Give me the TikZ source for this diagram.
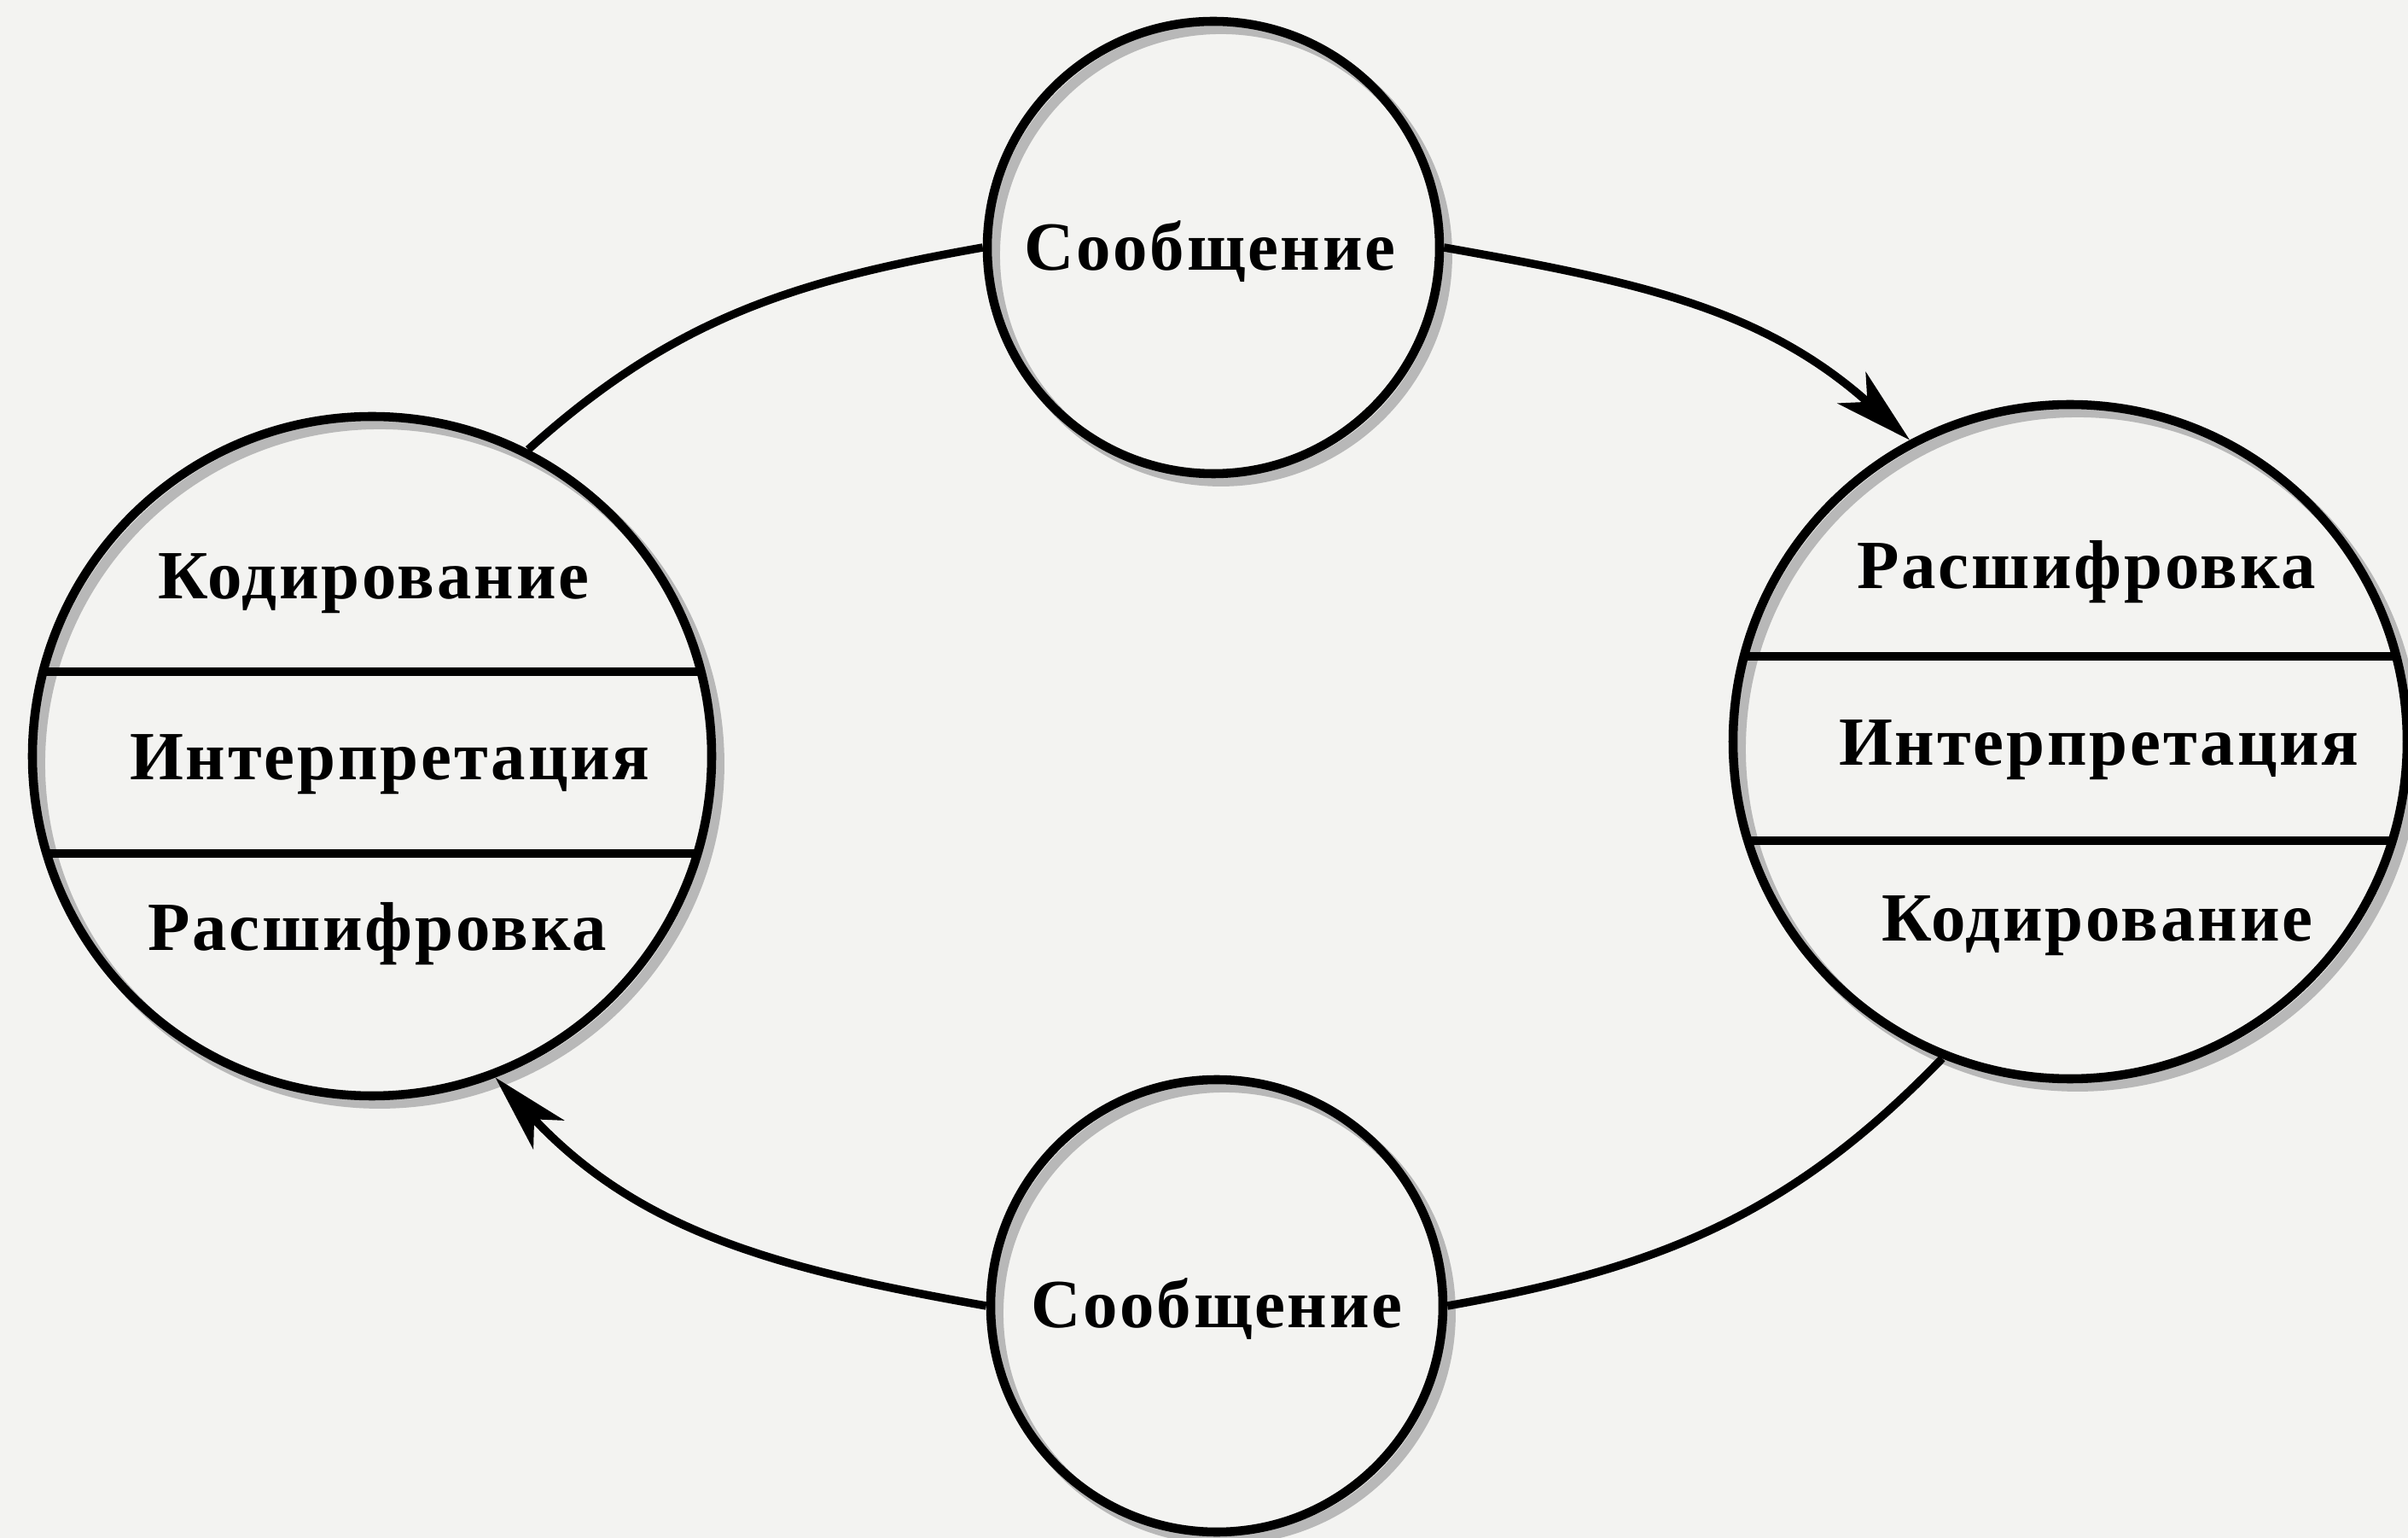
\documentclass[tikz,border=0pt]{standalone}
\usepackage{fontspec}
\setmainfont{Liberation Serif}
\newfontfamily\diafont[LetterSpace=3.5]{Liberation Serif}
\usetikzlibrary{arrows.meta,calc}
\definecolor{bgcol}{RGB}{243,243,241}
\begin{document}
\begin{tikzpicture}[x=1cm,y=1cm,
  ring/.style={circle, draw=black, line width=3pt, inner sep=0pt, minimum size=#1,
    preaction={draw=black!28, line width=3.5pt, transform canvas={xshift=2.5pt,yshift=-2.5pt}}},
  lbl/.style={font=\diafont\bfseries\fontsize{23}{27}\selectfont, inner sep=0pt, anchor=base},
  bar/.style={line width=3pt},
  link/.style={line width=2.7pt},
  tip/.style={-{Stealth[length=26pt,width=14pt,inset=7pt]}}
]
\fill[bgcol] (0,0) rectangle (28.22,-18.02);
\useasboundingbox (0,0) rectangle (28.22,-18.02);

% circles
\node[ring=5.3cm] (top) at (14.22,-2.90) {};
\node[ring=5.3cm] (bot) at (14.26,-15.30) {};
\node[ring=7.96cm] (L) at (4.36,-8.86) {};
\node[ring=7.90cm] (R) at (24.26,-8.69) {};

% dividers
\draw[bar] ($(L.center)+(-3.86,0.99)$) -- ($(L.center)+(3.86,0.99)$);
\draw[bar] ($(L.center)+(-3.82,-1.14)$) -- ($(L.center)+(3.82,-1.14)$);
\draw[bar] ($(R.center)+(-3.83,1.00)$) -- ($(R.center)+(3.83,1.00)$);
\draw[bar] ($(R.center)+(-3.78,-1.16)$) -- ($(R.center)+(3.78,-1.16)$);

% texts
\node[lbl] (ttop) at (14.18,-3.17) {Сообщение};
\node[lbl] (tbot) at (14.26,-15.55) {Сообщение};
\node[lbl] (lk) at (4.38,-7.02) {Кодирование};
\node[lbl] (li) at (4.57,-9.14) {Интерпретация};
\node[lbl] (lr) at (4.42,-11.14) {Расшифровка};
\node[lbl] (rr) at (24.45,-6.90) {Расшифровка};
\node[lbl] (ri) at (24.60,-8.97) {Интерпретация};
\node[lbl] (rk) at (24.58,-11.03) {Кодирование};

% connectors
\draw[link] (L.63) to[out=42,in=190] (top.180);
\draw[link, tip] (top.0) to[out=-10,in=138] (R.118);
\draw[link] (R.248) to[out=226,in=10] (bot.0);
\draw[link, tip] (bot.180) to[out=170,in=-47] (L.291);
\end{tikzpicture}
\end{document}
